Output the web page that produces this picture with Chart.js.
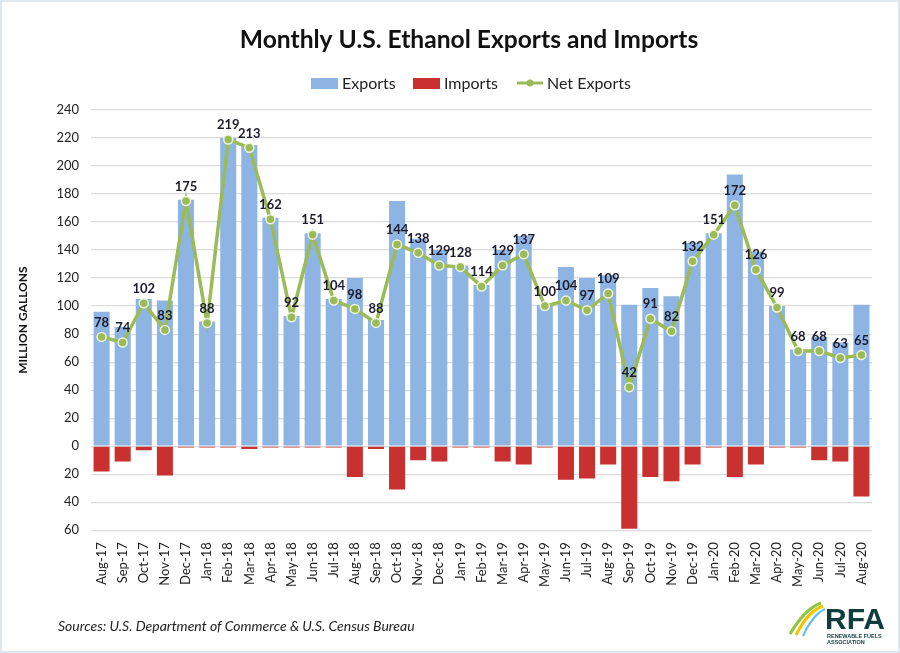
<!DOCTYPE html>
<html>
<head>
<meta charset="utf-8">
<script src="https://cdn.jsdelivr.net/npm/chart.js@4"></script>
<style>
  html,body{margin:0;padding:0;background:#fff;}
  #wrap{position:relative;width:900px;height:653px;box-sizing:border-box;border:2px solid #dfe8f0;overflow:hidden;}
  #c{position:absolute;left:0;top:0;}
  #src{position:absolute;left:56px;top:615px;font-family:Lato,"Open Sans",sans-serif;font-style:italic;font-size:14px;color:#222;}
  #logo{position:absolute;left:785px;top:597px;width:110px;height:50px;}
</style>
</head>
<body>
<div id="wrap">
<canvas id="c" width="896" height="649"></canvas>
<div id="src">Sources: U.S. Department of Commerce &amp; U.S. Census Bureau</div>
<svg id="logo" viewBox="0 0 110 50">
  <path d="M3 35 C 12 20, 22 8, 34 4" stroke="#8dc63f" stroke-width="3" fill="none"/>
  <path d="M9 36 C 16 22, 25 11, 36 7" stroke="#f2c500" stroke-width="3" fill="none"/>
  <path d="M16 37 C 22 24, 29 14, 38 10" stroke="#5bc2e7" stroke-width="2" fill="none"/>
  <text x="38" y="30" font-family="Liberation Sans, Arial" font-weight="bold" font-size="30" fill="#0f3d3e">RFA</text>
  <text x="40" y="39" font-family="Liberation Sans, Arial" font-weight="bold" font-size="5.5" fill="#0f3d3e">RENEWABLE FUELS</text>
  <text x="40" y="45" font-family="Liberation Sans, Arial" font-weight="bold" font-size="5.5" fill="#0f3d3e">ASSOCIATION</text>
</svg>
</div>
<script>
const months = ["Aug-17","Sep-17","Oct-17","Nov-17","Dec-17","Jan-18","Feb-18","Mar-18","Apr-18","May-18","Jun-18","Jul-18","Aug-18","Sep-18","Oct-18","Nov-18","Dec-18","Jan-19","Feb-19","Mar-19","Apr-19","May-19","Jun-19","Jul-19","Aug-19","Sep-19","Oct-19","Nov-19","Dec-19","Jan-20","Feb-20","Mar-20","Apr-20","May-20","Jun-20","Jul-20","Aug-20"];
const exportsVals = [96,85,105,104,176,89,220,215,163,93,152,105,120,90,175,148,140,129,115,140,150,101,128,120,122,101,113,107,145,152,194,139,100,69,78,74,101];
const importsVals = [-18,-11,-3,-21,-1,-1,-1,-2,-1,-1,-1,-1,-22,-2,-31,-10,-11,-1,-1,-11,-13,-1,-24,-23,-13,-59,-22,-25,-13,-1,-22,-13,-1,-1,-10,-11,-36];
const netExports = [78,74,102,83,175,88,219,213,162,92,151,104,98,88,144,138,129,128,114,129,137,100,104,97,109,42,91,82,132,151,172,126,99,68,68,63,65];
const yTicks = [-60,-40,-20,0,20,40,60,80,100,120,140,160,180,200,220,240];
const titleText = 'Monthly U.S. Ethanol Exports and Imports';

const FONT = 'Lato, "Open Sans", sans-serif';

const decorPlugin = {
  id:'decor',
  afterDraw(chart){
    const ctx = chart.ctx;
    ctx.save();
    ctx.font = 'bold 24.6px ' + FONT;
    ctx.fillStyle = '#111';
    ctx.textAlign = 'center';
    ctx.textBaseline = 'middle';
    ctx.fillText(titleText, 467, 38);
    ctx.font = '16px ' + FONT;
    ctx.textAlign = 'left';
    const ds = chart.data.datasets;
    let x = 309, y = 81;
    ctx.fillStyle = ds[1].backgroundColor; ctx.fillRect(x, y-5, 27, 11);
    ctx.fillStyle = '#222'; ctx.fillText(ds[1].label, x+31, y+1);
    x = 411;
    ctx.fillStyle = ds[2].backgroundColor; ctx.fillRect(x, y-5, 27, 11);
    ctx.fillStyle = '#222'; ctx.fillText(ds[2].label, x+31, y+1);
    x = 515;
    ctx.strokeStyle = ds[0].borderColor; ctx.lineWidth = 3;
    ctx.beginPath(); ctx.moveTo(x, y); ctx.lineTo(x+26, y); ctx.stroke();
    ctx.fillStyle = ds[0].pointBackgroundColor;
    ctx.beginPath(); ctx.arc(x+13, y, 3.5, 0, Math.PI*2); ctx.fill();
    ctx.fillStyle = '#222'; ctx.fillText(ds[0].label, x+30, y+1);
    const meta = chart.getDatasetMeta(0);
    ctx.font = 'bold 13px ' + FONT;
    ctx.fillStyle = '#1b1b2b';
    ctx.textAlign = 'center';
    ctx.textBaseline = 'bottom';
    meta.data.forEach((pt,i)=>{
      ctx.fillText(String(netExports[i]), pt.x, pt.y - 8);
    });
    ctx.restore();
  }
};

new Chart(document.getElementById('c'), {
  data: {
    labels: months,
    datasets: [
      {type:'line', label:'Net Exports', data: netExports, borderColor:'#9bbb59', borderWidth:3.5,
       pointRadius:4.5, pointBackgroundColor:'#9bbb59', pointBorderColor:'#eef5dc', pointBorderWidth:1.5,
       tension:0, order:0},
      {type:'bar', label:'Exports', data: exportsVals, backgroundColor:'#8db4e2', grouped:false,
       barPercentage:0.76, categoryPercentage:1.0, order:2},
      {type:'bar', label:'Imports', data: importsVals, backgroundColor:'#c8312f', grouped:false,
       barPercentage:0.76, categoryPercentage:1.0, order:1}
    ]
  },
  options: {
    responsive:false,
    animation:false,
    layout:{padding:{left:10,right:26,top:108,bottom:60}},
    plugins:{
      title:{display:false},
      legend:{display:false},
      tooltip:{enabled:false}
    },
    scales:{
      x:{
        grid:{display:false},
        border:{display:false},
        ticks:{minRotation:90, maxRotation:90, autoSkip:false,
          font:{family:FONT, size:13}, color:'#222', padding:4}
      },
      y:{
        min:-60, max:240,
        afterBuildTicks(axis){ axis.ticks = yTicks.map(v=>({value:v})); },
        ticks:{callback:v=>Math.abs(v), font:{family:FONT, size:13}, color:'#222', padding:12},
        grid:{color:'#dcdcdc', lineWidth:1.2, drawTicks:false},
        border:{display:false},
        title:{display:true, text:'MILLION GALLONS', font:{family:FONT, size:12, weight:'bold'}, color:'#111', padding:{bottom:14}}
      }
    }
  },
  plugins:[decorPlugin]
});
</script>
</body>
</html>
